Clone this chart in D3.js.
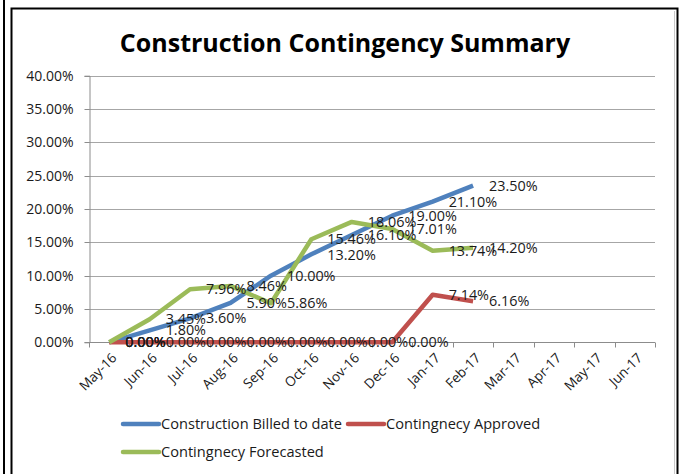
<!DOCTYPE html>
<html><head><meta charset="utf-8">
<script src="https://cdn.jsdelivr.net/npm/d3@7"></script>
<style>
body{margin:0;background:#fff;}
svg{display:block;}
text{font-family:"Open Sans","Lato",sans-serif;fill:#1a1a1a;}
</style></head>
<body><svg id="c" width="681" height="474"></svg>
<script>
const months = ["May-16","Jun-16","Jul-16","Aug-16","Sep-16","Oct-16","Nov-16","Dec-16","Jan-17","Feb-17","Mar-17","Apr-17","May-17","Jun-17"];
const billed = [0, 1.80, 3.60, 5.90, 10.00, 13.20, 16.10, 19.00, 21.10, 23.50];
const approved = [0, 0, 0, 0, 0, 0, 0, 0, 7.14, 6.16];
const forecasted = [0, 3.45, 7.96, 8.46, 5.86, 15.46, 18.06, 17.01, 13.74, 14.20];
const yTicks = [0, 5, 10, 15, 20, 25, 30, 35, 40];
const seriesNames = ["Construction Billed to date", "Contingnecy Approved", "Contingnecy Forecasted"];
const colors = ["#4F81BD", "#C0504D", "#9BBB59"];
const title = "Construction Contingency Summary";

const svg = d3.select("#c");
// outer decorations
svg.append("line").attr("x1",4).attr("x2",4).attr("y1",0).attr("y2",474).attr("stroke","#000").attr("stroke-width",2);
svg.append("rect").attr("x",11.5).attr("y",8.5).attr("width",666).attr("height",470).attr("fill","none").attr("stroke","#000").attr("stroke-width",2);
svg.append("line").attr("x1",674.5).attr("x2",674.5).attr("y1",11).attr("y2",474).attr("stroke","#c8c8c8").attr("stroke-width",1);

svg.append("text").attr("x",345).attr("y",52).attr("text-anchor","middle")
  .style("font-size","25px").style("font-weight","bold").style("fill","#000").text(title);

const x = d3.scaleBand().domain(months).range([89, 655]);
const y = d3.scaleLinear().domain([0, 40]).range([342.3, 75.7]);
const cx = m => x(m) + x.bandwidth()/2;

// gridlines
svg.append("g").selectAll("line").data(yTicks).join("line")
  .attr("x1",89).attr("x2",655).attr("y1",d=>Math.round(y(d))+0.5).attr("y2",d=>Math.round(y(d))+0.5)
  .attr("stroke","#a6a6a6").attr("stroke-width",1);

// y axis
const yAxis = d3.axisLeft(y).tickValues(yTicks).tickSize(5).tickPadding(11).tickFormat(d=>d3.format(".2f")(d)+"%");
const gy = svg.append("g").attr("transform","translate(89.5,0)").call(yAxis);
gy.selectAll("path,line").attr("stroke","#8c8c8c");
gy.selectAll("text").style("font-size","14px").style("font-family","'Open Sans',sans-serif").attr("fill","#1a1a1a");
gy.selectAll(".tick").attr("transform",d=>`translate(0,${Math.round(y(d))+0.5})`);

// x axis
const gx = svg.append("g").attr("transform",`translate(0,${Math.round(y(0))+0.5})`);
gx.append("line").attr("x1",89).attr("x2",655).attr("stroke","#8c8c8c");
const bounds = months.map(m=>x(m)).concat([655]);
gx.selectAll("line.tk").data(bounds).join("line").attr("class","tk")
  .attr("x1",d=>Math.round(d)+0.5).attr("x2",d=>Math.round(d)+0.5).attr("y1",0).attr("y2",5).attr("stroke","#8c8c8c");
gx.selectAll("text").data(months).join("text")
  .attr("transform",m=>`translate(${cx(m)+5},13) rotate(-45)`)
  .attr("text-anchor","end").attr("dy","0.35em")
  .style("font-size","13.5px").text(m=>m);

// lines
const allSeries = [billed, approved, forecasted];
const line = d3.line().x((d,i)=>cx(months[i])).y(d=>y(d));
allSeries.forEach((s,k)=>{
  svg.append("path").datum(s).attr("d",line).attr("fill","none")
    .attr("stroke",colors[k]).attr("stroke-width",4.5).attr("stroke-linejoin","round").attr("stroke-linecap","butt");
});

// data labels
allSeries.forEach((s,k)=>{
  svg.append("g").selectAll("text").data(s).join("text")
    .attr("x",(d,i)=>cx(months[i])+16).attr("y",d=>y(d)).attr("dy","0.36em")
    .style("font-size","14.4px").text(d=>d3.format(".2f")(d)+"%");
});

// legend
const leg = [
  {name: seriesNames[0], color: colors[0], x: 123, y: 424},
  {name: seriesNames[1], color: colors[1], x: 348, y: 424},
  {name: seriesNames[2], color: colors[2], x: 123, y: 452}
];
const lg = svg.append("g");
leg.forEach(l=>{
  lg.append("line").attr("x1",l.x).attr("x2",l.x+36).attr("y1",l.y).attr("y2",l.y)
    .attr("stroke",l.color).attr("stroke-width",4.5).attr("stroke-linecap","round");
  lg.append("text").attr("x",l.x+38).attr("y",l.y).attr("dy","0.36em").style("font-size","14.6px").text(l.name);
});
</script></body></html>
